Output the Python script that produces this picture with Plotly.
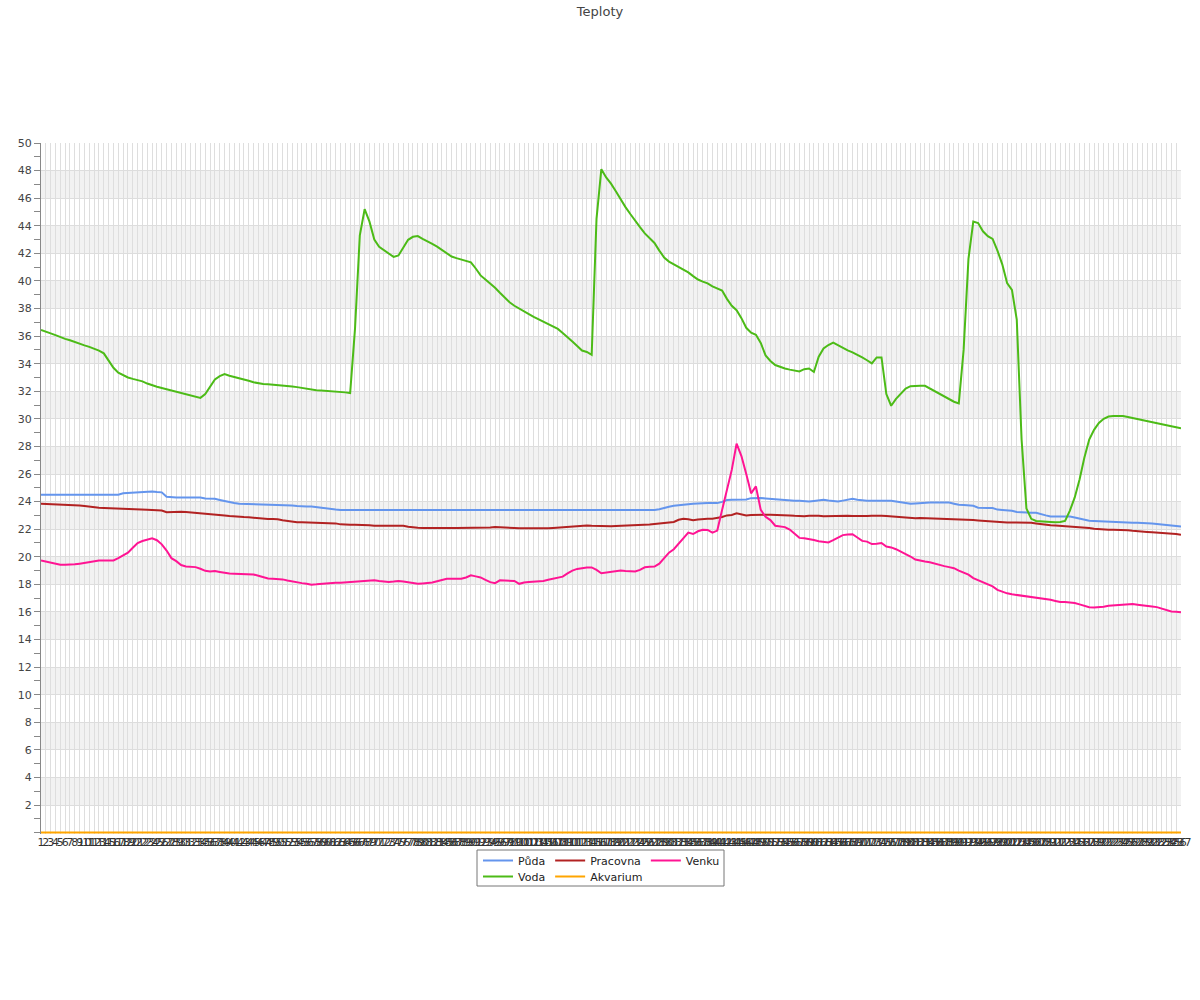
import plotly.graph_objects as go

title_text = "Teploty"

x_labels = [str(n) for n in range(1, 238)]

puda = [
    24.5, 24.5, 24.5, 24.5, 24.54, 24.5, 24.5, 24.5, 24.5, 24.5,
    24.5, 24.5, 24.5, 24.5, 24.5, 24.5, 24.5, 24.6, 24.63, 24.65,
    24.66, 24.68, 24.7, 24.74, 24.7, 24.67, 24.35, 24.3, 24.3, 24.3,
    24.3, 24.3, 24.3, 24.3, 24.22, 24.2, 24.2, 24.12, 24.03, 23.95,
    23.9, 23.85, 23.84, 23.84, 23.84, 23.84, 23.8, 23.78, 23.77, 23.77,
    23.77, 23.75, 23.72, 23.68, 23.65, 23.65, 23.65, 23.6, 23.52, 23.48,
    23.45, 23.42, 23.4, 23.4, 23.4, 23.4, 23.4, 23.4, 23.4, 23.4,
    23.4, 23.4, 23.4, 23.4, 23.4, 23.4, 23.4, 23.38, 23.36, 23.36,
    23.36, 23.36, 23.36, 23.37, 23.38, 23.4, 23.4, 23.4, 23.4, 23.4,
    23.4, 23.4, 23.4, 23.4, 23.4, 23.4, 23.4, 23.4, 23.4, 23.4,
    23.4, 23.4, 23.4, 23.4, 23.36, 23.4, 23.4, 23.4, 23.4, 23.4,
    23.4, 23.4, 23.4, 23.4, 23.4, 23.4, 23.4, 23.4, 23.4, 23.4,
    23.4, 23.4, 23.36, 23.4, 23.4, 23.4, 23.4, 23.4, 23.44, 23.55,
    23.63, 23.7, 23.75, 23.78, 23.81, 23.84, 23.87, 23.89, 23.89, 23.89,
    23.89, 23.98, 24.12, 24.13, 24.13, 24.13, 24.15, 24.25, 24.28, 24.26,
    24.23, 24.2, 24.15, 24.1, 24.07, 24.06, 24.06, 24.06, 24.04, 24.01,
    24.05, 24.1, 24.13, 24.08, 24.02, 24.0, 24.07, 24.15, 24.2, 24.13,
    24.07, 24.06, 24.06, 24.06, 24.06, 24.06, 24.06, 24.0, 23.94, 23.88,
    23.84, 23.87, 23.9, 23.92, 23.93, 23.93, 23.93, 23.93, 23.93, 23.85,
    23.77, 23.75, 23.72, 23.7, 23.56, 23.53, 23.53, 23.53, 23.42, 23.39,
    23.37, 23.33, 23.25, 23.22, 23.21, 23.2, 23.19, 23.12, 23.0, 22.92,
    22.92, 22.92, 22.92, 22.92, 22.85, 22.76, 22.67, 22.62, 22.6, 22.58,
    22.56, 22.53, 22.51, 22.49, 22.47, 22.47, 22.47, 22.47, 22.47, 22.45,
    22.42, 22.38, 22.33, 22.3, 22.27, 22.23, 22.2,
]

pracovna = [
    23.84, 23.83, 23.82, 23.81, 23.8, 23.79, 23.78, 23.76, 23.72, 23.68,
    23.63, 23.59, 23.56, 23.54, 23.52, 23.5, 23.48, 23.46, 23.45, 23.44,
    23.43, 23.42, 23.41, 23.4, 23.4, 23.35, 23.23, 23.25, 23.3, 23.27,
    23.25, 23.22, 23.2, 23.19, 23.16, 23.12, 23.1, 23.06, 23.0, 22.95,
    22.91, 22.9, 22.88, 22.87, 22.83, 22.78, 22.73, 22.73, 22.73, 22.72,
    22.65, 22.59, 22.54, 22.51, 22.5, 22.49, 22.49, 22.49, 22.49, 22.49,
    22.48, 22.42, 22.35, 22.32, 22.32, 22.32, 22.32, 22.31, 22.28, 22.25,
    22.25, 22.25, 22.25, 22.25, 22.25, 22.25, 22.18, 22.13, 22.1, 22.09,
    22.08, 22.08, 22.08, 22.08, 22.08, 22.08, 22.08, 22.08, 22.08, 22.08,
    22.08, 22.08, 22.1, 22.12, 22.15, 22.12, 22.1, 22.08, 22.08, 22.07,
    22.06, 22.05, 22.04, 22.03, 22.04, 22.06, 22.08, 22.11, 22.15, 22.18,
    22.21, 22.23, 22.25, 22.27, 22.25, 22.23, 22.21, 22.21, 22.22, 22.23,
    22.24, 22.25, 22.26, 22.27, 22.28, 22.3, 22.34, 22.38, 22.42, 22.45,
    22.48, 22.52, 22.68, 22.75, 22.72, 22.65, 22.7, 22.75, 22.75, 22.75,
    22.8, 22.88, 23.0, 23.03, 23.15, 23.1, 23.0, 23.02, 23.04, 23.04,
    23.04, 23.04, 23.04, 23.04, 23.02, 23.0, 22.97, 22.95, 22.93, 22.98,
    22.99, 22.97, 22.93, 22.94, 22.96, 22.98, 23.0, 22.98, 22.96, 22.94,
    22.93, 22.95, 22.98, 23.0, 22.98, 22.95, 22.92, 22.88, 22.85, 22.82,
    22.8, 22.8, 22.82, 22.81, 22.8, 22.78, 22.76, 22.75, 22.73, 22.72,
    22.71, 22.7, 22.69, 22.66, 22.63, 22.6, 22.57, 22.55, 22.52, 22.5,
    22.49, 22.49, 22.49, 22.49, 22.49, 22.47, 22.42, 22.36, 22.31, 22.28,
    22.26, 22.24, 22.21, 22.19, 22.15, 22.12, 22.1, 22.08, 22.04, 22.0,
    21.96, 21.96, 21.96, 21.96, 21.96, 21.92, 21.88, 21.84, 21.82, 21.8,
    21.78, 21.76, 21.75, 21.73, 21.71, 21.65, 21.59,
]

venku = [
    19.73, 19.65, 19.57, 19.49, 19.42, 19.42, 19.42, 19.45, 19.5, 19.56,
    19.62, 19.7, 19.73, 19.73, 19.73, 19.73, 19.9, 20.1, 20.3, 20.65,
    21.0, 21.14, 21.23, 21.34, 21.2, 20.9, 20.45, 19.9, 19.68, 19.4,
    19.3, 19.3, 19.25, 19.13, 18.98, 18.94, 18.96, 18.9, 18.83, 18.78,
    18.77, 18.77, 18.77, 18.77, 18.72, 18.62, 18.52, 18.43, 18.41, 18.41,
    18.36, 18.28, 18.2, 18.14, 18.09, 18.04, 17.98, 18.0, 18.04, 18.07,
    18.09, 18.11, 18.12, 18.14, 18.16, 18.19, 18.21, 18.24, 18.27, 18.29,
    18.24, 18.2, 18.17, 18.2, 18.24, 18.2, 18.15, 18.08, 18.04, 18.07,
    18.09, 18.14, 18.23, 18.32, 18.41, 18.41, 18.41, 18.41, 18.5, 18.65,
    18.58, 18.5, 18.33, 18.16, 18.09, 18.29, 18.28, 18.26, 18.25, 18.04,
    18.14, 18.17, 18.19, 18.21, 18.25, 18.33, 18.41, 18.47, 18.56, 18.8,
    19.0, 19.12, 19.2, 19.23, 19.23, 19.05, 18.8, 18.85, 18.95, 19.0,
    19.0, 18.97, 18.94, 18.94, 19.05, 19.24, 19.27, 19.29, 19.5, 19.9,
    20.3, 20.55, 20.95, 21.35, 21.75, 21.65, 21.85, 21.96, 21.95, 21.75,
    21.9, 23.4, 24.8, 26.3, 28.2, 27.3, 26.0, 24.6, 25.1, 23.4,
    22.9, 22.66, 22.25, 22.2, 22.15, 21.97, 21.65, 21.37, 21.35, 21.3,
    21.22, 21.13, 21.07, 21.04, 21.2, 21.4, 21.57, 21.62, 21.64, 21.4,
    21.15, 21.1, 20.92, 20.95, 21.0, 20.74, 20.68, 20.55, 20.38, 20.2,
    20.02, 19.8, 19.7, 19.65, 19.6, 19.5, 19.38, 19.32, 19.25, 19.17,
    19.0, 18.85, 18.7, 18.45, 18.3, 18.18, 18.04, 17.85, 17.6, 17.45,
    17.35, 17.28, 17.23, 17.18, 17.14, 17.1, 17.06, 17.02, 16.96, 16.88,
    16.8, 16.72, 16.72, 16.71, 16.65, 16.55, 16.42, 16.34, 16.33, 16.33,
    16.38, 16.45, 16.48, 16.5, 16.52, 16.57, 16.57, 16.52, 16.46, 16.42,
    16.39, 16.35, 16.25, 16.12, 16.04, 16.02, 15.97,
]

voda = [
    36.45, 36.3, 36.2, 36.07, 35.92, 35.8, 35.7, 35.56, 35.44, 35.33,
    35.22, 35.08, 34.95, 34.75, 34.2, 33.7, 33.35, 33.15, 33.0, 32.9,
    32.8, 32.72, 32.56, 32.43, 32.33, 32.24, 32.15, 32.07, 31.97, 31.87,
    31.77, 31.68, 31.58, 31.52, 31.8, 32.35, 32.85, 33.1, 33.24, 33.13,
    33.05, 32.95, 32.86, 32.76, 32.65, 32.57, 32.53, 32.5, 32.48, 32.46,
    32.42, 32.38, 32.35, 32.3, 32.23, 32.17, 32.12, 32.07, 32.05, 32.03,
    32.01, 31.99, 31.97, 31.92, 31.87, 36.5, 43.3, 45.2, 44.3, 43.0,
    42.48, 42.25, 42.0, 41.74, 41.85, 42.4, 42.98, 43.2, 43.25, 43.05,
    42.88, 42.68, 42.48, 42.25, 42.0, 41.77, 41.65, 41.55, 41.47, 41.35,
    40.9, 40.4, 40.1, 39.82, 39.5, 39.14, 38.8, 38.45, 38.2, 37.98,
    37.8, 37.6, 37.4, 37.22, 37.05, 36.85, 36.7, 36.52, 36.22, 35.94,
    35.6, 35.28, 34.95, 34.85, 34.64, 44.5, 48.1, 47.5, 47.05, 46.5,
    45.9, 45.35, 44.85, 44.35, 43.9, 43.45, 43.1, 42.75, 42.2, 41.7,
    41.4, 41.2, 41.0, 40.82, 40.62, 40.35, 40.1, 39.95, 39.82, 39.6,
    39.42, 39.3, 38.7, 38.2, 37.88, 37.3, 36.6, 36.25, 36.1, 35.5,
    34.6, 34.2, 33.9, 33.75, 33.65, 33.57, 33.5, 33.44, 33.6, 33.65,
    33.4, 34.5, 35.1, 35.35, 35.53, 35.33, 35.15, 34.97, 34.82, 34.65,
    34.45, 34.25, 34.02, 34.45, 34.45, 31.8, 30.95, 31.45, 31.85, 32.2,
    32.37, 32.4, 32.4, 32.4, 32.2, 32.0, 31.8, 31.6, 31.42, 31.24,
    31.12, 35.0, 41.6, 44.3, 44.2, 43.6, 43.25, 43.05, 42.2, 41.2,
    39.85, 39.35, 37.2, 28.5, 23.5, 22.75, 22.6, 22.56, 22.55, 22.53,
    22.5, 22.52, 22.6, 23.35, 24.3, 25.6, 27.2, 28.5, 29.2, 29.7,
    30.0, 30.17, 30.2, 30.2, 30.2, 30.13, 30.05, 29.97, 29.89, 29.82,
    29.75, 29.67, 29.6, 29.53, 29.46, 29.39, 29.32,
]

akvarium = [0.0] * 237

series = [
    ("Půda", puda, "#6495ED", "legend"),
    ("Pracovna", pracovna, "#B22222", "legend"),
    ("Venku", venku, "#FF1493", "legend"),
    ("Voda", voda, "#4CBB17", "legend2"),
    ("Akvarium", akvarium, "#FFA500", "legend2"),
]

FONT = "DejaVu Sans"

fig = go.Figure()
for name, vals, color, leg in series:
    fig.add_trace(go.Scatter(
        x=x_labels, y=vals, name=name, mode="lines",
        line=dict(color=color, width=2),
        legend=leg,
    ))

# alternating horizontal bands
shapes = []
for k in range(12):
    shapes.append(dict(
        type="rect", xref="paper", yref="y", x0=0, x1=1,
        y0=2 + 4 * k, y1=4 + 4 * k,
        fillcolor="#f2f2f2", line=dict(width=0), layer="below",
    ))

# legend frame (paper coords; plot area 41..1181 px, 143..834 px)
def px_x(p):
    return (p - 41) / 1140.0

def px_y(p):
    return (834 - p) / 691.0

shapes.append(dict(
    type="rect", xref="paper", yref="paper",
    x0=px_x(477), x1=px_x(724), y0=px_y(850), y1=px_y(886),
    line=dict(color="#777777", width=1), fillcolor="rgba(0,0,0,0)",
    layer="above",
))

fig.update_layout(
    width=1200, height=1000,
    margin=dict(l=41, r=19, t=143, b=166, autoexpand=False),
    paper_bgcolor="white", plot_bgcolor="white",
    font=dict(family=FONT, size=11, color="#444444"),
    title=dict(text=title_text, x=0.5, xanchor="center", y=0.989,
               yanchor="middle", font=dict(family=FONT, size=13, color="#444444")),
    shapes=shapes,
    showlegend=True,
    legend=dict(orientation="h", x=px_x(478), y=px_y(846), xanchor="left",
                yanchor="top", font=dict(family=FONT, size=11, color="#222222"),
                bgcolor="rgba(0,0,0,0)", borderwidth=0, tracegroupgap=0),
    legend2=dict(orientation="h", x=px_x(478), y=px_y(862), xanchor="left",
                 yanchor="top", font=dict(family=FONT, size=11, color="#222222"),
                 bgcolor="rgba(0,0,0,0)", borderwidth=0, tracegroupgap=0),
    hovermode=False,
)

fig.update_xaxes(
    type="category", range=[0, 236], automargin=False,
    tickmode="array", tickvals=x_labels, ticktext=x_labels,
    tickangle=0, tickfont=dict(family=FONT, size=11, color="#333333"),
    showgrid=True, gridcolor="#dedede", gridwidth=1,
    showline=False, zeroline=False, ticks="",
)

fig.update_yaxes(
    range=[-0.1, 50], automargin=False,
    tickmode="array", tickvals=list(range(2, 51, 2)),
    tickfont=dict(family=FONT, size=11, color="#444444"),
    showgrid=True, gridcolor="#dddddd", gridwidth=1,
    showline=True, linecolor="#888888", linewidth=1,
    ticks="outside", ticklen=6, tickcolor="#888888",
    minor=dict(dtick=1, tick0=0, ticks="outside", ticklen=6, tickcolor="#888888", showgrid=False),
    zeroline=False,
)

fig.write_html(
    "out.html",
    config={"displayModeBar": False},
    post_script="document.body.style.margin='0';",
)
